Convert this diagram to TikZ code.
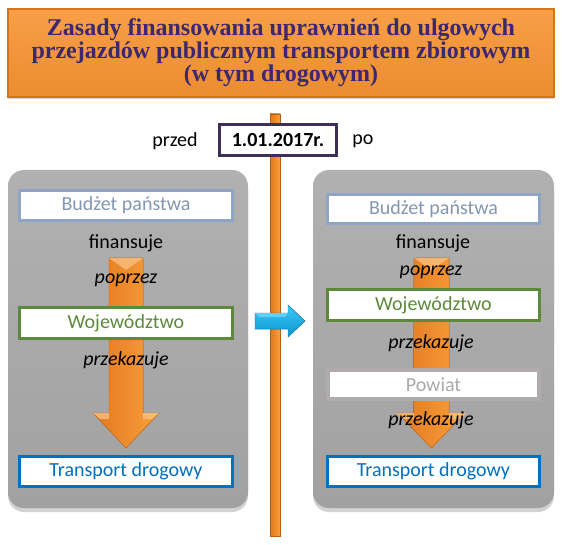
\documentclass[tikz,border=0pt]{standalone}
\usepackage{fontspec}
\setmainfont{Carlito}
\newfontfamily\titlefont{Liberation Serif}
\usetikzlibrary{shadows}
\definecolor{titleorange}{RGB}{247,148,51}
\definecolor{titleedge}{RGB}{214,116,26}
\definecolor{titletext}{RGB}{60,40,110}
\definecolor{panelgrey}{RGB}{166,166,166}
\definecolor{budzetline}{RGB}{142,165,200}
\definecolor{budzettext}{RGB}{132,151,176}
\definecolor{wojline}{RGB}{92,138,58}
\definecolor{tdline}{RGB}{0,112,192}
\definecolor{powline}{RGB}{176,172,172}
\definecolor{powtext}{RGB}{170,170,170}
\definecolor{dateline}{RGB}{63,45,90}
\definecolor{arrowlight}{RGB}{250,160,60}
\definecolor{arrowdark}{RGB}{226,120,30}
\definecolor{cyanlight}{RGB}{60,200,245}
\definecolor{cyandark}{RGB}{10,150,210}
\tikzset{
  panel/.style={rounded corners=16pt, top color=panelgrey!88!white, bottom color=panelgrey!97!black,
    drop shadow={shadow xshift=0pt, shadow yshift=-4pt, opacity=0.35}},
  box/.style={draw, fill=white, line width=3pt, font=\fontsize{20}{22}\selectfont, inner sep=0pt},
  budzetbox/.style={box, draw=budzetline, text=budzettext},
  wojbox/.style={box, draw=wojline, text=wojline},
  tdbox/.style={box, draw=tdline, text=tdline},
  powbox/.style={box, draw=powline, text=powtext, line width=4pt},
  lbl/.style={font=\fontsize{20}{22}\selectfont, text=black, inner sep=0pt},
  ilbl/.style={font=\fontsize{20}{22}\selectfont\itshape, text=black, inner sep=0pt},
  orangearrow/.style={left color=arrowdark, right color=arrowlight, draw=arrowdark!90!black, line width=0.4pt},
  bevel/.style={fill=arrowlight!60!white, opacity=0.7},
}
\begin{document}
\begin{tikzpicture}[x=1pt,y=-1pt]
\useasboundingbox[fill=white] (0,0) rectangle (562,545);

% title
\node[draw=titleedge, line width=2pt, top color=titleorange!90!white, bottom color=titleorange!95!black,
  minimum width=546pt, minimum height=88pt, inner sep=0pt, drop shadow={shadow xshift=0pt, shadow yshift=-2pt, opacity=0.3},
  align=center, text=titletext, font=\titlefont\bfseries\fontsize{24}{20.5}\selectfont] (title) at (281,53)
  {Zasady finansowania uprawnień do ulgowych\\przejazdów publicznym transportem zbiorowym\\(w tym drogowym)};

% panels
\node[panel, minimum width=240pt, minimum height=338pt, inner sep=0pt] (lpanel) at (128,339) {};
\node[panel, minimum width=241pt, minimum height=338pt, inner sep=0pt] (rpanel) at (433.5,339) {};

% timeline bar
\coordinate (bartop) at (275,114);
\coordinate (barbot) at (275,536);
\fill[left color=arrowdark, right color=arrowlight, draw=arrowdark!80!black, line width=0.4pt]
  ([xshift=-5pt]bartop) -- ([xshift=5pt]bartop) -- ([xshift=5pt]barbot) -- ([xshift=-5pt]barbot) -- cycle;

% date
\node[draw=dateline, line width=3pt, fill=white, minimum width=117pt, minimum height=31pt, inner sep=0pt,
  font=\bfseries\fontsize{20}{22}\selectfont] (date) at (278,140) {1.01.2017r.};
\node[lbl] (przed) at (175,141) {przed};
\node[lbl] (po) at (363,141) {po};

% blue arrow
\coordinate (bstart) at (255,321);
\coordinate (bend) at (305,321);
\fill[top color=cyanlight, bottom color=cyandark, draw=cyandark!80!black, line width=0.4pt]
  ([yshift=8pt]bstart) -- ++(33,0) -- ++(0,-8) -- (bend) -- ++(-17,16) -- ++(0,-8) -- ([yshift=-8pt]bstart) -- cycle;
\fill[cyanlight!60!white, opacity=0.6] (255,313) -- (288,313) -- (285,317) -- (259,317) -- cycle;

% left column
\node[budzetbox, minimum width=213pt, minimum height=30pt] (lbud) at (126,205.5) {Budżet państwa};
\node[lbl] (lfin) at (126,243) {finansuje};
\node[tdbox, minimum width=213pt, minimum height=30pt] (ltd) at (126,471.5) {Transport drogowy};
\coordinate (laS) at (126,258);
\coordinate (laT) at (126,448);
\fill[orangearrow] ([xshift=-17pt]laS) -- ([xshift=17pt]laS) -- ++(0,155) -- ++(16,0) -- (laT) -- ++(-33,-35) -- ++(16,0) -- cycle;
\fill[bevel] (93,413) -- (109,413) -- (109,419) -- (100,419) -- cycle;
\fill[bevel] (159,413) -- (143,413) -- (143,419) -- (152,419) -- cycle;
\fill[bevel] (109,258) -- (143,258) -- (126,270) -- cycle;
\node[wojbox, minimum width=213pt, minimum height=31pt] (lwoj) at (126,323) {Województwo};
\node[ilbl] (lpop) at (126,280) {poprzez};
\node[ilbl] (lprz) at (126,360) {przekazuje};

% right column
\node[budzetbox, minimum width=212pt, minimum height=29pt] (rbud) at (433.5,209) {Budżet państwa};
\node[lbl] (rfin) at (433,243) {finansuje};
\node[tdbox, minimum width=212pt, minimum height=30pt] (rtd) at (433.5,471.5) {Transport drogowy};
\coordinate (raS) at (431.5,258);
\coordinate (raT) at (431.5,448);
\fill[orangearrow] ([xshift=-17.5pt]raS) -- ([xshift=17.5pt]raS) -- ++(0,155) -- ++(16,0) -- (raT) -- ++(-34,-35) -- ++(16,0) -- cycle;
\fill[bevel] (396,413) -- (414,413) -- (414,419) -- (403,419) -- cycle;
\fill[bevel] (467,413) -- (449,413) -- (449,419) -- (460,419) -- cycle;
\fill[bevel] (414,258) -- (449,258) -- (431.5,270) -- cycle;
\node[wojbox, minimum width=212pt, minimum height=31pt] (rwoj) at (433.5,305) {Województwo};
\node[powbox, minimum width=211pt, minimum height=29pt] (rpow) at (433.5,384.5) {Powiat};
\node[ilbl] (rpop) at (431,272) {poprzez};
\node[ilbl] (rprz1) at (431,343) {przekazuje};
\node[ilbl] (rprz2) at (431,420) {przekazuje};
\end{tikzpicture}
\end{document}
